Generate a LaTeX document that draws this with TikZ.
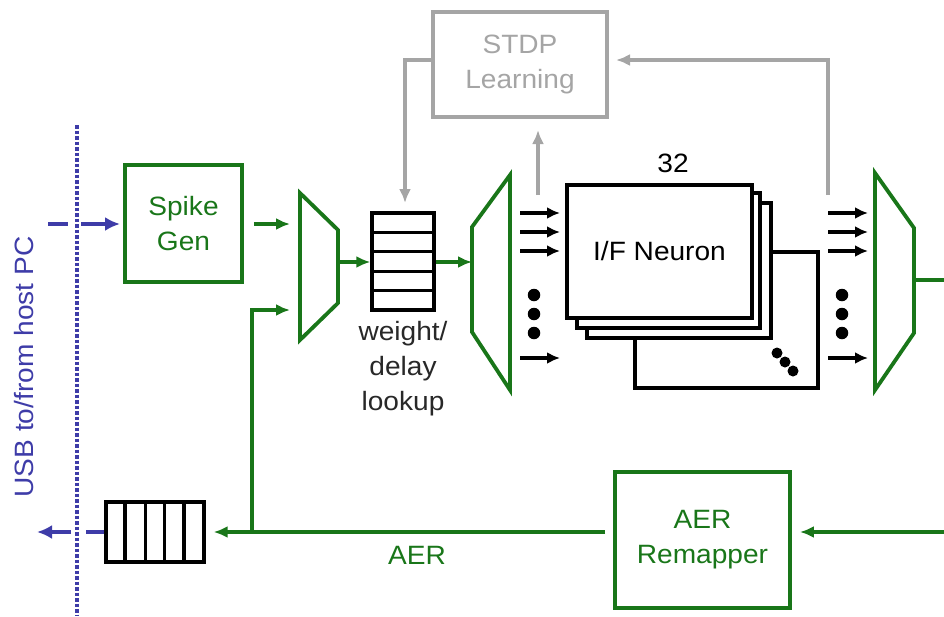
\documentclass[tikz,border=0pt]{standalone}
\usepackage{fontspec}
\setmainfont{Liberation Sans}[FakeStretch=1.06]
\usetikzlibrary{arrows.meta}
\definecolor{mygreen}{RGB}{25,118,25}
\definecolor{myblue}{RGB}{62,60,168}
\definecolor{mygray}{RGB}{165,165,165}
\definecolor{mytext}{RGB}{40,40,40}
\tikzset{
  grn/.style={draw=mygreen, line width=3.8pt},
  blk/.style={draw=black, line width=3.2pt},
  gry/.style={draw=mygray, line width=3.2pt},
  blu/.style={draw=myblue, line width=3.8pt},
  garr/.style={grn, -{Latex[length=14pt,width=12pt]}},
  karr/.style={blk, -{Latex[length=13pt,width=12pt]}},
  yarr/.style={gry, -{Latex[length=14pt,width=12pt]}},
  barr/.style={blu, -{Latex[length=15pt,width=14pt]}},
  txt/.style={font=\fontsize{26.5}{35}\selectfont, align=center, inner sep=0pt},
  gbox/.style={grn, rectangle, inner sep=0pt, text=mygreen, txt},
  nbox/.style={blk, rectangle, fill=white, inner sep=0pt},
  dot/.style={circle, fill=black, inner sep=0pt, minimum size=12.5pt},
}
\begin{document}
\begin{tikzpicture}[x=1pt, y=-1pt]
\useasboundingbox (0,0) rectangle (944,616);

% blue host interface
\draw[myblue, line width=4.2pt, dash pattern=on 3.5pt off 2pt] (77,125) -- (77,616);
\node[txt, text=myblue, rotate=90] (usb) at (24,367) {USB to/from host PC};

% Spike Gen
\node[gbox, minimum width=117pt, minimum height=117pt] (spike) at (183.5,223.5) {Spike\\Gen};

% mux 1
\draw[grn] (300,193) -- (338,230) -- (338,303) -- (300,340) -- cycle;
\coordinate (m1in1) at (300,224);
\coordinate (m1in2) at (300,310);
\coordinate (m1out) at (338,262);

% weight/delay FIFO
\node[blk, rectangle, minimum width=62pt, minimum height=97pt, inner sep=0pt] (fifo) at (403,261.5) {};
\foreach \yy in {232.4,251.8,271.2,290.6}
  \draw[blk] (372,\yy) -- (434,\yy);
\node[txt, text=mytext] (wdl) at (403,369) {weight/\\delay\\lookup};

% demux
\draw[grn] (510,175) -- (472,227) -- (472,332) -- (510,390) -- cycle;
\coordinate (dmin) at (472,262);

% neuron stack
\node[nbox, minimum width=183pt, minimum height=136pt] (n4) at (726.5,320) {};
\node[nbox, minimum width=184pt, minimum height=135pt] (n3) at (679,270.5) {};
\node[nbox, minimum width=183pt, minimum height=135pt] (n2) at (668.5,260.5) {};
\node[nbox, minimum width=185pt, minimum height=133pt, font=\fontsize{26.5}{35}\selectfont] (n1) at (659.5,251.5) {I/F Neuron};
\node[txt] (n32) at (673,163) {32};
\node[dot, minimum size=11pt] (dd1) at (777,353) {};
\node[dot, minimum size=11pt] (dd2) at (785,362) {};
\node[dot, minimum size=11pt] (dd3) at (793,371) {};

% input arrows
\foreach \yy/\nm in {213/a,232/b,251/c,358/d} {
  \coordinate (i\nm) at (520,\yy);
  \coordinate (o\nm) at (828,\yy);
  \draw[karr] (i\nm) -- (560,\yy);
  \draw[karr] (o\nm) -- (868,\yy);
}
\foreach \yy [count=\k] in {295,314,333} {
  \node[dot] (ldot\k) at (534,\yy) {};
  \node[dot] (rdot\k) at (842,\yy) {};
}

% right mux
\draw[grn] (875,173) -- (914,228) -- (914,333) -- (875,390) -- cycle;
\coordinate (rmout) at (914,280);
\coordinate (rmedge) at (944,280);

% STDP
\node[rectangle, draw=mygray, line width=3.2pt, minimum width=174pt, minimum height=105pt, inner sep=0pt, txt, text=mygray] (stdp) at (520,64.5) {STDP\\Learning};
\coordinate (sL) at (433,60);
\coordinate (sR) at (616,60);
\coordinate (upB) at (538,195);
\coordinate (upT) at (538,130);
\coordinate (rB) at (828,195);

% output FIFO
\node[blk, rectangle, minimum width=98pt, minimum height=60pt, inner sep=0pt] (ofifo) at (155,532) {};
\foreach \xx in {125,145.5,164.5,184}
  \draw[blk] (\xx,502) -- (\xx,562);

% AER Remapper
\node[gbox, minimum width=175pt, minimum height=136pt] (remap) at (702.5,540) {AER\\Remapper};
\coordinate (redge) at (944,532);
\coordinate (junc) at (252,532);
\node[txt, text=mygreen] (aer) at (417,555) {AER};

% green connectors
\draw[garr, shorten <=10pt] (spike.east |- m1in1) -- ([xshift=-10pt]m1in1);
\draw[garr] (junc) -- (252,310) -- ([xshift=-10pt]m1in2);
\draw[garr] (m1out) -- (fifo.west |- m1out);
\draw[garr] (fifo.east |- dmin) -- (dmin);
\draw[grn] (rmout) -- (rmedge);
\draw[garr, shorten >=8pt] (redge) -- (remap.east |- redge);
\draw[garr, shorten <=8pt, shorten >=8pt] (remap.west |- redge) -- (ofifo.east |- redge);

% gray connectors
\draw[yarr] (sL) -- (405,60) -- (405,203);
\draw[yarr] (upB) -- (upT);
\draw[yarr] (rB) -- (828,60) -- (sR);

% blue connectors
\coordinate (bt1) at (48,224);
\coordinate (bt2) at (68,224);
\coordinate (bt3) at (81,224);
\draw[blu] (bt1) -- (bt2);
\draw[barr] (bt3) -- (120,224);
\coordinate (bb1) at (86,532);
\coordinate (bb2) at (71,532);
\draw[blu] (ofifo.west) -- (bb1);
\draw[barr] (bb2) -- (37,532);
\end{tikzpicture}
\end{document}
